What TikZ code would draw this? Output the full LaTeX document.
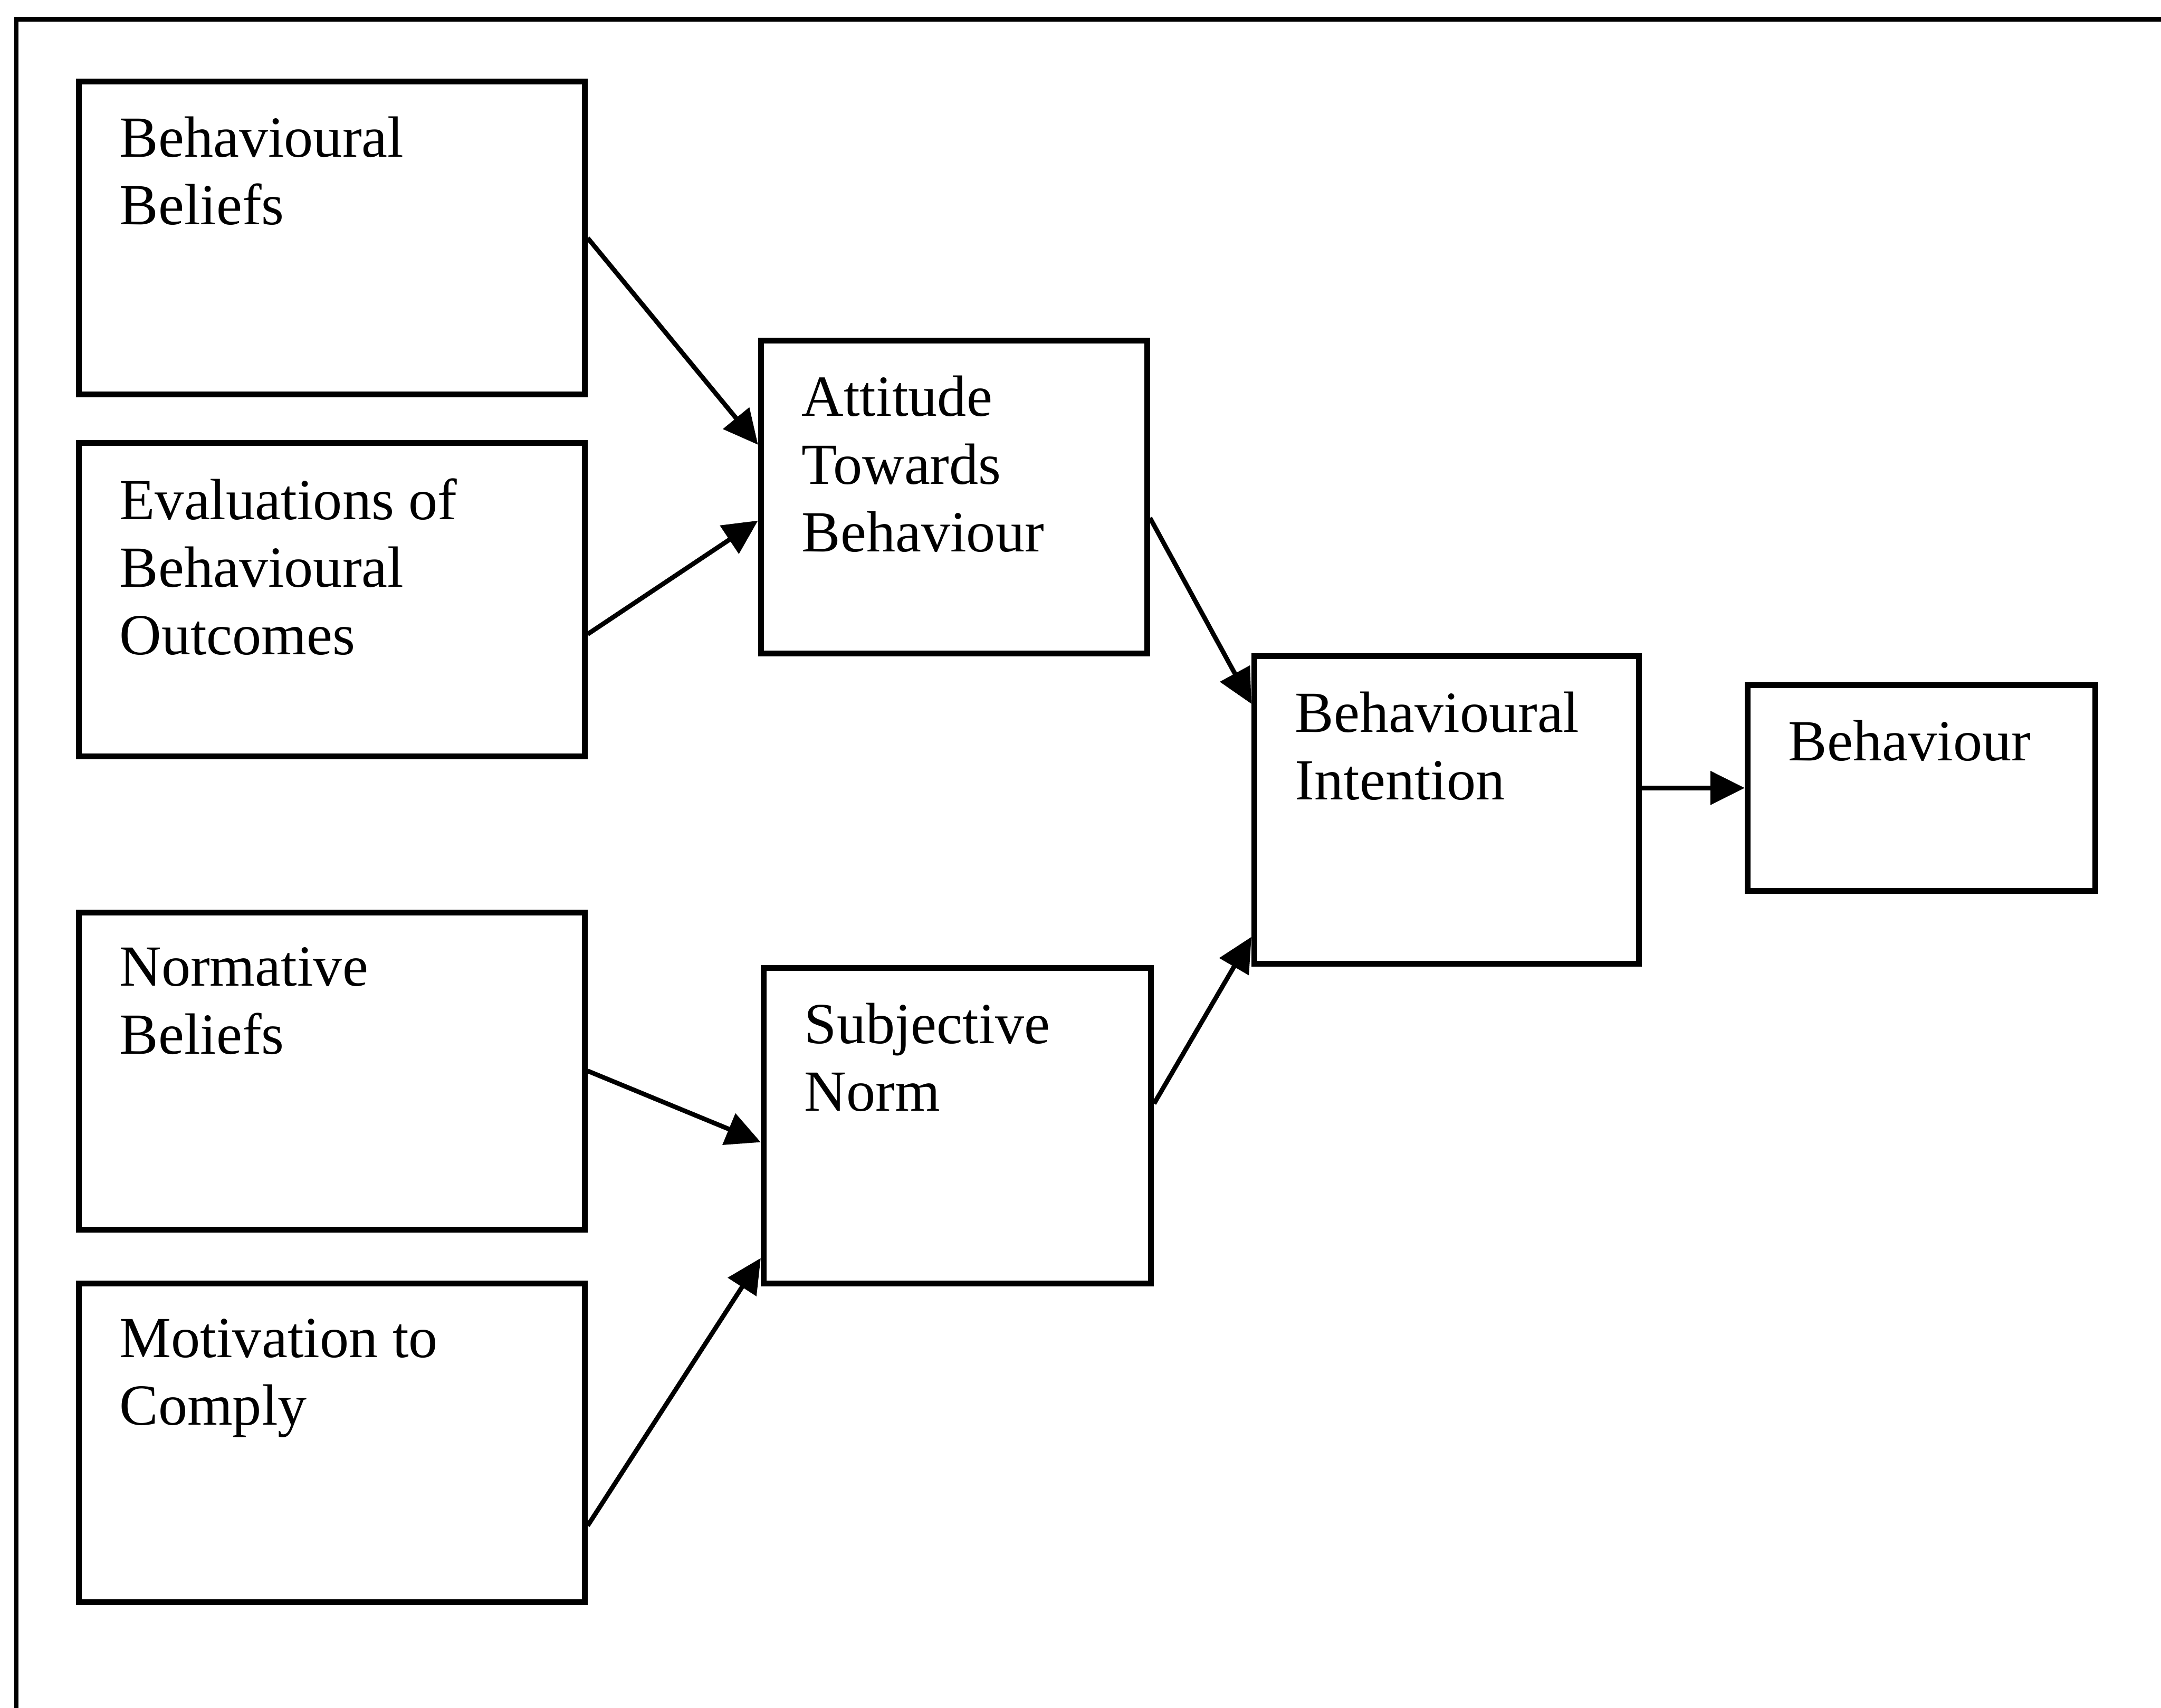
\documentclass[tikz,border=0pt]{standalone}
\usepackage{fontspec}
\setmainfont{Liberation Serif}
\usetikzlibrary{positioning,arrows.meta}

\begin{document}
\begin{tikzpicture}[x=0.01cm, y=0.01cm, node distance=0.31cm]
	\tikzstyle{factor}=[rectangle, draw=black, line width=1.2pt, inner sep=0pt, anchor=north west,
	minimum width=3.67cm, minimum height=2.27cm]
	\tikzstyle{boxtext}=[anchor=north west, align=left, inner sep=0pt, xshift=0.31cm, yshift=-0.27cm,
	font=\fontsize{12}{13.95}\selectfont]
	\tikzstyle{line}=[-{Triangle[length=0.25cm, width=0.24cm]}, line width=0.95pt]
	\tikzstyle{frame}=[line width=0.9pt]
	\useasboundingbox (0,0) rectangle (1568,-1239);
	\clip (0,0) rectangle (1568,-1239);
	\draw[frame] (12,-14) rectangle (1640,-1300);
	% left column
	\node (BehBeliefs) [factor, label={[boxtext]north west:Behavioural\\Beliefs}] at (55,-57) {};
	\node (EvalOutcomes) [factor, below=of BehBeliefs,
	label={[boxtext]north west:Evaluations of\\Behavioural\\Outcomes}] {};
	\node (NormBeliefs) [factor, minimum height=2.3cm, below=1.09cm of EvalOutcomes,
	label={[boxtext]north west:Normative\\Beliefs}] {};
	\node (Motivation) [factor, minimum height=2.31cm, below=0.35cm of NormBeliefs,
	label={[boxtext]north west:Motivation to\\Comply}] {};
	% middle and right
	\node (Attitude) [factor, minimum width=2.8cm, label={[boxtext]north west:Attitude\\Towards\\Behaviour}] at (550,-245) {};
	\node (SubjNorm) [factor, minimum width=2.81cm, minimum height=2.29cm,
	label={[boxtext]north west:Subjective\\Norm}] at (552,-700) {};
	\node (Intention) [factor, minimum width=2.79cm, minimum height=2.23cm,
	label={[boxtext]north west:Behavioural\\Intention}] at (908,-474) {};
	\node (Behaviour) [factor, minimum width=2.52cm, minimum height=1.49cm,
	label={[boxtext]north west:Behaviour}] at (1266,-495) {};

	\draw[line] (BehBeliefs.east) -- ([yshift=0.38cm]Attitude.west);
	\draw[line] ([yshift=-0.25cm]EvalOutcomes.east) -- ([yshift=-0.17cm]Attitude.west);
	\draw[line] (NormBeliefs.east) -- ([yshift=-0.12cm]SubjNorm.west);
	\draw[line] ([yshift=-0.6cm]Motivation.east) -- ([yshift=-0.96cm]SubjNorm.west);
	\draw[line] ([yshift=-0.15cm]Attitude.east) -- ([yshift=0.77cm]Intention.west);
	\draw[line] ([yshift=0.16cm]SubjNorm.east) -- ([yshift=-0.92cm]Intention.west);
	\draw[line] (Intention.east |- Behaviour.west) -- (Behaviour.west);
\end{tikzpicture}
\end{document}
